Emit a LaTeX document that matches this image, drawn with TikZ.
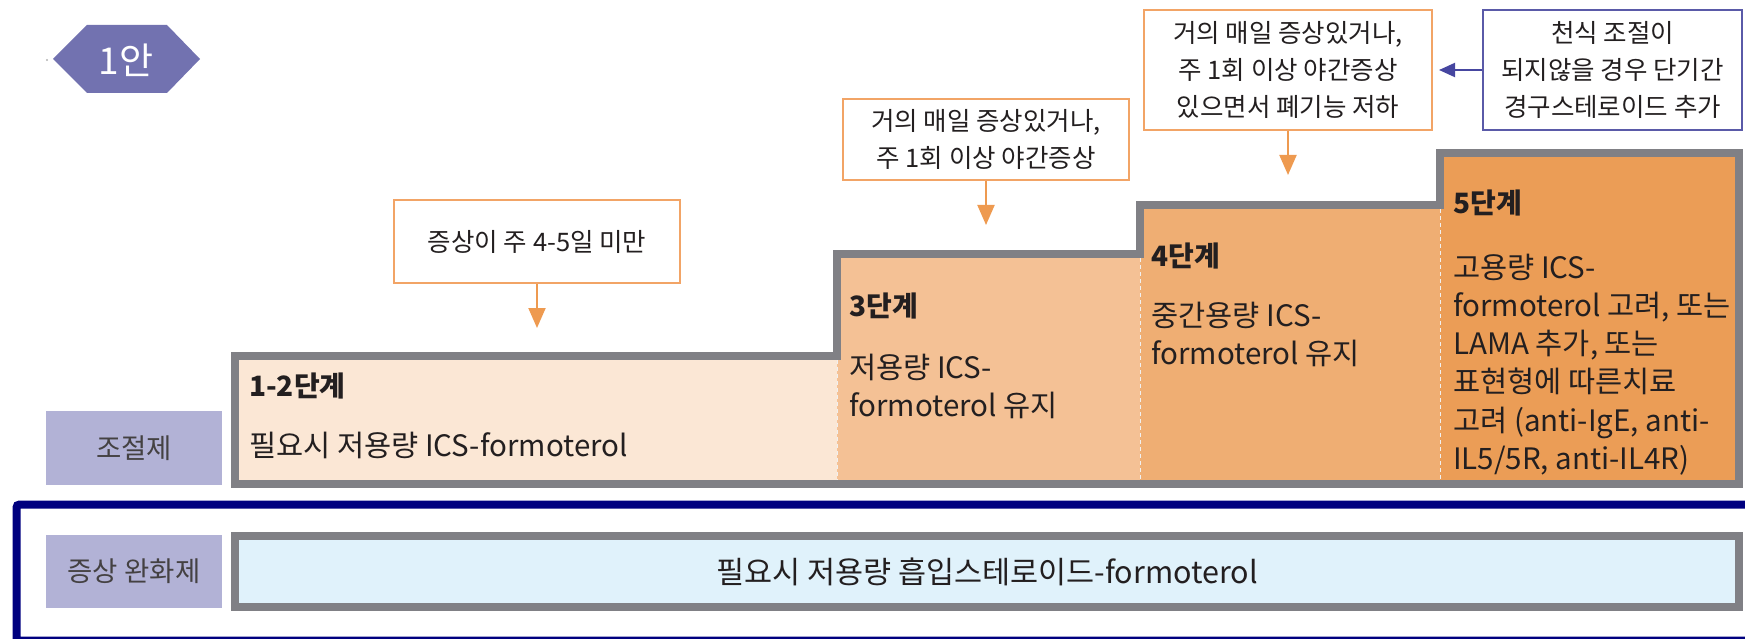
\documentclass[tikz,border=0pt]{standalone}
\usepackage{fontspec}
\setmainfont{Noto Sans CJK KR}
\usetikzlibrary{arrows.meta,calc}
\definecolor{textc}{HTML}{231F20}
\definecolor{hexc}{HTML}{7272B0}
\definecolor{labc}{HTML}{B2B2D6}
\definecolor{navyc}{HTML}{00007F}
\definecolor{grayb}{HTML}{808085}
\definecolor{reliefc}{HTML}{E0F2FB}
\definecolor{stepA}{HTML}{FBE7D5}
\definecolor{stepB}{HTML}{F4C195}
\definecolor{stepC}{HTML}{EFAE73}
\definecolor{stepD}{HTML}{EB9D56}
\definecolor{cueor}{HTML}{F2A466}
\definecolor{arrowor}{HTML}{EE9A50}
\definecolor{cueblue}{HTML}{5A5AA8}
\definecolor{arrowblue}{HTML}{4646A0}
\tikzset{
  headtxt/.style={text=textc, inner sep=0pt, anchor=base west, font=\fontsize{28}{34}\selectfont\bfseries},
  bodytxt/.style={text=textc, inner sep=0pt, anchor=base west, align=left, font=\fontsize{29.5}{38.3}\selectfont},
  cuebox/.style={draw=cueor, line width=2pt, fill=white, inner sep=0pt, align=center, text=textc, font=\fontsize{25.5}{37}\selectfont},
  bluebox/.style={cuebox, draw=cueblue},
  labbox/.style={fill=labc, inner sep=0pt, minimum width=176pt, minimum height=74pt, text=textc!85, font=\fontsize{27.5}{32}\selectfont},
  orarrow/.style={draw=arrowor, line width=2pt, -{Triangle[length=20pt,width=17pt]}},
  bluearrow/.style={draw=arrowblue, line width=2pt, -{Triangle[length=16pt,width=14pt]}},
  divider/.style={draw=white!88!gray, line width=1pt, dash pattern=on 4pt off 3pt},
}
\begin{document}
\begin{tikzpicture}[x=1pt,y=-1pt]
\useasboundingbox (0,0) rectangle (1745,639);
% badge
\fill[gray!60] (47,60) circle (1.2);
\fill[hexc] (53,59) -- (87,25) -- (167,25) -- (200,59) -- (167,93) -- (87,93) -- cycle;
\node[text=white, inner sep=0pt, font=\fontsize{37}{40}\selectfont] (badge) at (126,60) {1안};
% controller steps
\fill[stepA] (235,356) rectangle (837,484);
\fill[stepB] (837,254) rectangle (1140,484);
\fill[stepC] (1140,205) rectangle (1440,484);
\fill[stepD] (1440,153) rectangle (1739,484);
\draw[divider] (837,360) -- (837,480);
\draw[divider] (1140,258) -- (1140,480);
\draw[divider] (1440,209) -- (1440,480);
\draw[grayb, line width=8pt, miter limit=10] (235,484) -- (235,356) -- (837,356) -- (837,254) -- (1140,254) -- (1140,205) -- (1440,205) -- (1440,153) -- (1739,153) -- (1739,484) -- cycle;
\node[headtxt] (h12) at (249,396) {1-2단계};
\node[bodytxt] (b12) at (249,456) {필요시 저용량 ICS-formoterol};
\node[headtxt] (h3) at (849,316) {3단계};
\node[bodytxt] (b3) at (849,416.3) {저용량 ICS-\\formoterol 유지};
\node[headtxt] (h4) at (1151,266) {4단계};
\node[bodytxt] (b4) at (1151,364.3) {중간용량 ICS-\\formoterol 유지};
\node[headtxt] (h5) at (1453,214) {5단계};
\node[bodytxt] (b5) at (1453,469.5) {고용량 ICS-\\formoterol 고려, 또는\\LAMA 추가, 또는\\표현형에 따른치료\\고려 (anti-IgE, anti-\\IL5/5R, anti-IL4R)};
% labels
\node[labbox] (ctrl) at (134,448) {조절제};
\node[labbox, minimum height=73pt] (relieflab) at (134,571.5) {증상 완화제};
% reliever frame (runs past the right and bottom edges)
\draw[navyc, line width=8pt, rounded corners=3pt] (16.5,504.5) rectangle (1765,640.5);
\draw[grayb, line width=8pt, fill=reliefc] (235,536) rectangle (1739,607);
\node[text=textc, inner sep=0pt, font=\fontsize{30.5}{34}\selectfont] (relief) at (987,572) {필요시 저용량 흡입스테로이드-formoterol};
% cue boxes
\node[cuebox, minimum width=286pt, minimum height=83pt] (cue12) at (537,241.5) {증상이 주 4-5일 미만};
\node[cuebox, minimum width=286pt, minimum height=81pt] (cue3) at (986,139.5) {거의 매일 증상있거나,\\주 1회 이상 야간증상};
\node[cuebox, minimum width=288pt, minimum height=120pt] (cue4) at (1288,70) {거의 매일 증상있거나,\\주 1회 이상 야간증상\\있으면서 폐기능 저하};
\node[bluebox, minimum width=259pt, minimum height=120pt] (cueblue) at (1612.5,70) {천식 조절이\\되지않을 경우 단기간\\경구스테로이드 추가};
\coordinate (t12) at (537,328);
\coordinate (t3) at (986,225);
\coordinate (t4) at (1288,175);
\coordinate (tb) at ($(cue4.east)+(6,0)$);
\draw[orarrow] (cue12.south) -- (t12);
\draw[orarrow] (cue3.south) -- (t3);
\draw[orarrow] (cue4.south) -- (t4);
\draw[bluearrow] (cueblue.west) -- (tb);
\end{tikzpicture}
\end{document}
